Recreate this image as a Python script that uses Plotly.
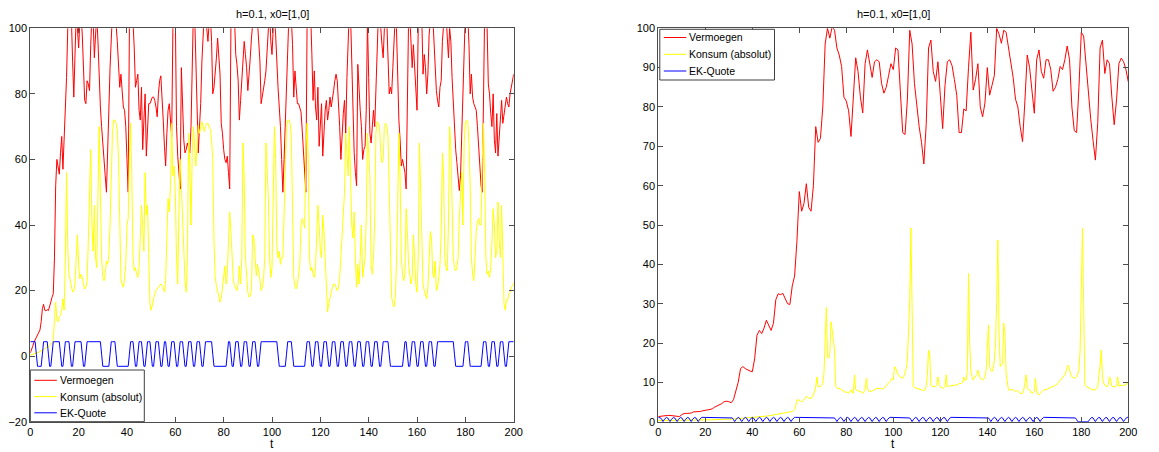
import numpy as np
import plotly.graph_objects as go

# ---------------- data: left panel (t step 0.5) ----------------
vermoegen_left = [
    1.0, 1.8, 3.0, 4.2, 5.0, 5.6, 6.3, 7.0, 8.0, 10.5, 14.5, 15.8, 14.0, 13.8, 14.2, 13.9, 15.0, 16.5, 18.0, 19.0,
    30, 52, 60, 57, 55.5, 62, 67, 57, 66, 72, 85, 100, 106, 105, 103, 90, 79, 92, 104, 100,
    94, 102, 104, 98, 88, 78, 77, 84, 83, 81, 95, 104, 103, 91, 98, 104, 96, 82, 76, 70,
    64, 60, 55, 50, 60, 75, 88, 100, 105, 106, 104, 101, 96, 88, 82, 86, 80, 76, 75, 70,
    60, 50, 100, 106, 105, 102, 94, 82, 84, 86, 75, 72, 82, 63, 72, 80, 61, 72, 77, 77,
    78, 79, 79, 78, 76, 73, 80, 84, 85.5, 80, 72, 64, 58, 68, 75, 77, 72, 67, 100, 106,
    104, 70, 61, 55, 51, 88, 75, 66, 62, 63, 65, 63, 62, 70, 102, 106, 104, 90, 72, 62,
    70, 77, 90, 102, 105, 104, 100, 96, 102, 104, 96, 80, 82, 86, 91, 97, 92, 86, 71, 68,
    63, 60, 59, 61, 56, 51, 100, 106, 105, 103, 92, 89, 84, 72, 78, 84, 89, 96, 92, 88,
    81, 85, 91, 97, 104, 106, 106, 105, 102, 96, 90, 77, 79, 82, 84, 87, 95, 104, 106, 96,
    92, 100, 104, 98, 88, 82, 76, 70, 60, 50, 60, 72, 85, 98, 104, 105, 103, 95, 79, 87,
    80, 77, 77, 76, 74.5, 69, 63, 57, 50, 100, 106, 106, 104, 92, 78, 87, 76, 72, 82, 64,
    72, 77, 61, 70, 75, 78, 72, 75, 79, 76, 78, 81, 84, 86, 84, 78, 70, 60, 68, 74,
    78, 68, 85, 102, 106, 104, 90, 70, 62, 56, 52, 89, 80, 75, 70, 60, 63, 64, 75, 102,
    85, 68, 65, 72, 75, 70, 82, 98, 104, 103, 100, 95, 91, 100, 104, 102, 90, 80, 82, 80,
    88, 98, 104, 100, 85, 72, 66, 58, 60, 58, 56, 51, 75, 102, 104, 94, 88, 95, 88, 78,
    75, 100, 105, 106, 102, 86, 92, 88, 80, 86, 98, 104, 106, 104, 95, 90, 81, 78, 76, 82,
    84, 96, 104, 106, 104, 98, 91, 100, 96, 85, 76, 68, 63, 59, 54, 50.5, 55, 68, 85, 100,
    105, 106, 104, 95, 80, 86, 79, 77, 76, 75, 70, 64, 58, 52, 50, 100, 106, 106, 100, 83,
    80, 74, 70, 80, 66, 62, 74, 61, 68, 74, 78, 71, 74, 77, 79, 77, 76, 80, 82, 84,
    86,
]

konsum_left = [
    0.3, 0.4, 0.5, 0.6, 0.7, 0.9, 1.0, 1.2, 1.4, 1.6, 1.8, 2.0, 2.2, 2.4, 2.6, 2.9, 3.2, 3.6, 4.0, 5.0,
    12, 16.5, 11, 10.5, 12, 12.5, 14, 17.5, 14, 30, 56, 33, 25, 23, 21.5, 19.5, 20, 22, 30, 37,
    28, 23.5, 25, 24, 22, 20.5, 21, 23, 35, 50, 63, 40, 32, 46, 30, 27, 45, 70, 50, 30,
    24, 23, 25, 29, 28, 31, 40, 54, 68, 72, 72, 71, 69, 60, 35, 23.5, 22, 21, 23.5, 28,
    40, 42, 62, 71, 55, 30, 26, 27, 25, 24, 27, 35, 46, 40, 32, 56, 43, 46, 30, 16,
    14, 16, 17.5, 19, 20, 20.5, 21, 21.5, 22, 21.5, 21, 19.5, 23, 36, 48, 44, 52, 71, 55, 58,
    50, 30, 22, 44, 60, 52, 42, 32, 23, 19.5, 30, 68, 58, 40, 62, 70, 64, 58, 64, 70.5,
    68, 70, 71.5, 70, 68.5, 70, 71, 71, 70, 69, 66, 60, 35, 24, 21.5, 19.5, 17.5, 16.5, 17.5, 21,
    25, 27.5, 22, 25, 35, 44, 38, 28, 23, 21.5, 20.5, 20, 22, 27.5, 22, 30, 65, 54, 30, 23,
    19.5, 18, 18.5, 20, 37, 36, 28, 24.5, 28, 26, 23.5, 20, 21, 23.5, 30, 65, 55, 48, 30, 24,
    27, 50, 70, 60, 34, 30, 32, 28, 30, 30, 45, 62, 70, 72, 72, 71, 67, 45, 24, 21,
    20.5, 22, 25, 28, 40, 42, 41, 39, 62, 71, 60, 30, 26, 27, 25, 24, 27, 35, 46, 40,
    32, 30, 43, 38, 28, 22, 13.5, 16, 18, 19.5, 21, 22, 22, 21, 20, 21, 24, 30, 36, 42,
    50, 68, 60, 55, 70, 50, 40, 36, 44, 30, 21, 28, 22, 30, 40, 24, 27, 30, 42, 68,
    62, 55, 28, 25, 30, 42, 68, 71.5, 71, 70, 62, 59, 60, 70, 71, 70, 67, 52, 32, 18,
    16, 15, 18, 28, 45, 68, 55, 30, 25, 23, 25, 45, 38, 28, 25, 22, 24, 37, 30, 22,
    19.5, 30, 65, 50, 29, 22, 20, 19, 17.5, 21, 30, 38, 36, 25, 24, 29, 20, 21, 24, 28,
    38, 62, 55, 30, 27, 26, 40, 70, 64, 50, 30, 27, 26, 27, 30, 42, 50, 56, 40, 65,
    71, 72, 71.5, 65, 52, 30, 25, 23, 30, 38, 41, 42, 40, 40, 60, 71, 55, 30, 25, 26,
    24, 27, 35, 45, 40, 30, 32, 47, 35, 30, 46, 26, 16, 14, 17, 17, 19, 19.5, 21, 21.5,
    22.5,
]

ekquote_left = [
    4.4, 4.4, 4.4, 4.4, 4.4, 0.6, -3.1, -3.1, -3.1, -3.1, 0.6, 4.4, 4.4, 4.4, 4.4, 0.6, -3.1, -3.1, 0.6, 4.4,
    4.4, 4.4, 4.4, 4.4, 4.4, 0.6, -3.1, -3.1, 0.6, 4.4, 4.4, 4.4, 4.4, 0.6, -3.1, -3.1, 0.6, 4.4, 4.4, 4.4,
    4.4, 4.4, 4.4, 0.6, -3.1, -3.1, 0.6, 4.4, 4.4, 4.4, 4.4, 4.4, 4.4, 4.4, 4.4, 4.4, 4.4, 4.4, 4.4, 0.6,
    -3.1, -3.1, -3.1, -3.1, -3.1, -3.1, 0.6, 4.4, 4.4, 4.4, 4.4, 0.6, -3.1, -3.1, -3.1, -3.1, -3.1, -3.1, -3.1, -3.1,
    -3.1, -3.1, 0.6, 4.4, 4.4, 4.4, 0.6, -3.1, -3.1, 0.6, 4.4, 4.4, 4.4, 0.6, -3.1, -3.1, 0.6, 4.4, 4.4, 4.4,
    0.6, -3.1, -3.1, 0.6, 4.4, 4.4, 4.4, 0.6, -3.1, -3.1, 0.6, 4.4, 4.4, 0.6, -3.1, -3.1, 0.6, 4.4, 4.4, 4.4,
    0.6, -3.1, -3.1, 0.6, 4.4, 4.4, 4.4, 0.6, -3.1, -3.1, 0.6, 4.4, 4.4, 4.4, 0.6, -3.1, -3.1, 0.6, 4.4, 4.4,
    4.4, 0.6, -3.1, -3.1, 0.6, 4.4, 4.4, 4.4, 4.4, 4.4, 4.4, 0.6, -3.1, -3.1, -3.1, -3.1, -3.1, -3.1, -3.1, -3.1,
    -3.1, -3.1, -3.1, 0.6, 4.4, 4.4, 0.6, -3.1, -3.1, 0.6, 4.4, 4.4, 4.4, 0.6, -3.1, -3.1, 0.6, 4.4, 4.4, 4.4,
    0.6, -3.1, -3.1, 0.6, 4.4, 4.4, 4.4, 0.6, -3.1, -3.1, 0.6, 4.4, 4.4, 4.4, 4.4, 4.4, 4.4, 4.4, 4.4, 4.4,
    4.4, 4.4, 4.4, 4.4, 4.4, 0.6, -3.1, -3.1, -3.1, -3.1, -3.1, -3.1, 0.6, 4.4, 4.4, 4.4, 4.4, 0.6, -3.1, -3.1,
    -3.1, -3.1, -3.1, -3.1, -3.1, -3.1, -3.1, -3.1, 0.6, 4.4, 4.4, 4.4, 0.6, -3.1, -3.1, 0.6, 4.4, 4.4, 4.4, 0.6,
    -3.1, -3.1, 0.6, 4.4, 4.4, 4.4, 0.6, -3.1, -3.1, 0.6, 4.4, 4.4, 4.4, 0.6, -3.1, -3.1, 0.6, 4.4, 4.4, 4.4,
    0.6, -3.1, -3.1, 0.6, 4.4, 4.4, 4.4, 0.6, -3.1, -3.1, 0.6, 4.4, 4.4, 4.4, 0.6, -3.1, -3.1, 0.6, 4.4, 4.4,
    4.4, 0.6, -3.1, -3.1, 0.6, 4.4, 4.4, 4.4, 0.6, -3.1, -3.1, 0.6, 4.4, 4.4, 4.4, 4.4, 4.4, 0.6, -3.1, -3.1,
    -3.1, -3.1, -3.1, -3.1, -3.1, -3.1, -3.1, -3.1, -3.1, 0.6, 4.4, 4.4, 0.6, -3.1, -3.1, 0.6, 4.4, 4.4, 4.4, 0.6,
    -3.1, -3.1, 0.6, 4.4, 4.4, 4.4, 0.6, -3.1, -3.1, 0.6, 4.4, 4.4, 4.4, 0.6, -3.1, -3.1, 0.6, 4.4, 4.4, 4.4,
    4.4, 4.4, 4.4, 4.4, 4.4, 4.4, 4.4, 4.4, 4.4, 4.4, 4.4, 0.6, -3.1, -3.1, -3.1, -3.1, -3.1, -3.1, -3.1, 0.6,
    4.4, 4.4, 4.4, 0.6, -3.1, -3.1, -3.1, -3.1, -3.1, -3.1, -3.1, -3.1, -3.1, -3.1, 0.6, 4.4, 4.4, 4.4, 0.6, -3.1,
    -3.1, 0.6, 4.4, 4.4, 4.4, 0.6, -3.1, -3.1, 0.6, 4.4, 4.4, 4.4, 0.6, -3.1, -3.1, 0.6, 4.4, 4.4, 4.4, 4.4,
    4.4,
]

# ---------------- data: right panel ----------------
# Vermoegen, t step 1
vermoegen_right = [
    1.3, 1.4, 1.5, 1.6, 1.6, 1.6, 1.5, 1.4, 1.3, 1.3,
    1.8, 2.1, 2.1, 2.1, 2.2, 2.5, 2.5, 2.5, 2.6, 2.8,
    3.0, 3.0, 3.1, 3.3, 3.7, 4.0, 4.2, 4.6, 5.1, 5.2,
    5.1, 4.8, 5.6, 7.5, 10.0, 13.5, 14.0, 13.5, 13.1, 12.9,
    12.7, 16.0, 22.0, 23.2, 22.4, 23.8, 25.8, 24.5, 23.2, 25.0,
    31.0, 32.5, 32.3, 32.6, 31.5, 30.0, 29.8, 34.5, 37.0, 46.0,
    58.5, 53.5, 55.5, 60.5, 54.5, 53.5, 60.0, 75.0, 71.0, 72.0,
    80.0, 96.0, 100.0, 97.5, 100.5, 99.5, 95.0, 93.2, 90.3, 82.5,
    81.5, 79.0, 72.5, 83.5, 92.5, 89.0, 82.5, 78.5, 91.0, 94.5,
    90.5, 87.5, 91.5, 92.0, 91.5, 86.0, 83.5, 85.0, 88.0, 91.0,
    89.5, 95.0, 94.5, 83.0, 73.5, 73.0, 82.0, 99.5, 96.0, 86.0,
    79.5, 75.0, 71.0, 65.5, 75.5, 95.0, 97.0, 89.0, 86.5, 91.5,
    83.0, 74.5, 85.5, 91.5, 92.0, 90.5, 87.0, 83.0, 73.5, 73.5,
    79.5, 79.0, 90.0, 99.0, 84.3, 87.0, 91.0, 80.0, 77.5, 81.0,
    90.0, 83.0, 85.5, 88.0, 100.0, 98.5, 96.2, 99.5, 99.0, 95.5,
    91.5, 87.5, 82.0, 80.0, 75.0, 71.2, 81.5, 93.2, 90.0, 85.0,
    78.4, 92.0, 94.5, 89.0, 87.3, 92.0, 92.0, 89.5, 84.0, 85.0,
    87.0, 90.3, 89.5, 92.0, 95.5, 92.0, 80.0, 74.0, 73.5, 85.0,
    99.0, 98.0, 90.3, 83.0, 77.0, 71.5, 66.5, 76.0, 95.0, 97.0,
    88.5, 92.0, 91.0, 82.5, 75.5, 81.8, 91.0, 92.4, 91.5, 89.5,
    86.4,
]

# Konsum and EK-Quote, t step 0.5
konsum_right = [
    0.30, 0.30, 0.30, 0.30, 0.31, 0.31, 0.31, 0.32, 0.32, 0.32, 0.33, 0.33, 0.33, 0.34, 0.34, 0.34, 0.35, 0.35, 0.35, 0.36,
    0.36, 0.37, 0.37, 0.38, 0.38, 0.39, 0.39, 0.40, 0.40, 0.41, 0.41, 0.42, 0.42, 0.43, 0.43, 0.44, 0.44, 0.45, 0.45, 0.46,
    0.46, 0.47, 0.47, 0.48, 0.48, 0.49, 0.50, 0.50, 0.51, 0.52, 0.52, 0.53, 0.54, 0.54, 0.55, 0.56, 0.57, 0.57, 0.58, 0.59,
    0.60, 0.62, 0.64, 0.66, 0.68, 0.70, 0.72, 0.74, 0.76, 0.78, 0.80, 0.83, 0.85, 0.88, 0.90, 0.93, 0.95, 0.98, 1.0, 1.05,
    1.1, 1.12, 1.14, 1.16, 1.18, 1.2, 1.22, 1.24, 1.26, 1.28, 1.3, 1.35, 1.4, 1.45, 1.5, 1.55, 1.6, 1.63, 1.66, 1.7,
    1.75, 1.85, 1.95, 2.05, 2.1, 2.15, 2.2, 2.25, 2.3, 2.3, 2.35, 2.4, 2.45, 2.5, 2.6, 2.8, 3.1, 4.0, 5.5, 5.6,
    5.5, 5.2, 5.0, 5.3, 5.5, 6.0, 6.4, 6.2, 5.9, 5.9, 5.9, 6.3, 6.8, 7.8, 8.9, 11.4, 8.9, 8.9, 8.9, 9.2,
    9.7, 12.3, 23.3, 29.0, 16.5, 16.1, 17.4, 25.4, 23.3, 20.0, 18.2, 8.9, 8.5, 8.4, 8.5, 8.3, 8.1, 7.9, 7.6, 7.5,
    7.6, 7.4, 7.2, 7.6, 8.1, 7.5, 7.2, 11.9, 8.1, 8.0, 7.9, 7.7, 7.6, 7.5, 7.2, 7.6, 8.0, 11.0, 8.5, 7.8,
    7.6, 7.7, 7.8, 8.0, 8.2, 8.3, 8.5, 8.4, 8.5, 8.4, 8.5, 8.3, 8.5, 8.8, 9.1, 9.4, 9.7, 10.2, 10.6, 11.0,
    10.6, 14.0, 13.6, 12.5, 11.9, 11.6, 11.4, 11.2, 11.0, 11.5, 12.3, 13.5, 15.7, 22.0, 30.9, 49.2, 25.8, 8.9, 8.7, 8.6,
    8.5, 8.4, 8.3, 8.2, 8.1, 8.0, 7.9, 8.1, 8.9, 12.0, 18.2, 17.0, 9.3, 9.0, 8.9, 8.9, 8.9, 9.5, 11.4, 9.5,
    8.9, 8.7, 8.5, 8.6, 8.9, 11.9, 8.9, 9.0, 9.1, 9.1, 9.1, 9.2, 9.3, 9.3, 9.3, 9.4, 9.7, 9.7, 9.7, 10.0,
    11.4, 10.5, 10.6, 13.0, 37.7, 20.0, 13.1, 11.5, 10.6, 11.0, 11.4, 12.0, 13.1, 12.0, 11.0, 10.8, 10.6, 10.8, 11.4, 13.0,
    18.2, 24.6, 14.0, 13.0, 12.7, 13.5, 15.7, 20.0, 30.9, 46.2, 22.5, 14.0, 14.4, 14.8, 25.0, 22.5, 12.3, 9.5, 8.1, 8.0,
    8.2, 8.1, 8.1, 7.9, 7.7, 7.8, 7.9, 7.6, 7.2, 7.2, 7.2, 8.0, 9.7, 11.9, 8.5, 8.1, 8.1, 7.6, 7.2, 7.4,
    7.6, 11.0, 7.6, 7.0, 6.8, 7.2, 7.6, 7.9, 8.1, 8.1, 8.1, 8.3, 8.5, 8.7, 8.9, 8.9, 8.9, 9.1, 9.3, 9.5,
    9.7, 10.2, 10.6, 11.0, 11.4, 11.6, 11.9, 12.8, 14.0, 14.4, 12.7, 12.0, 11.4, 11.2, 11.0, 11.2, 11.4, 12.2, 13.1, 18.2,
    30.9, 49.2, 30.0, 9.3, 9.0, 8.8, 8.6, 8.5, 8.3, 8.2, 8.1, 8.1, 8.1, 8.5, 8.9, 12.0, 14.0, 18.2, 11.4, 9.8,
    9.3, 9.0, 8.9, 9.5, 11.4, 10.6, 9.0, 8.9, 8.9, 8.9, 9.1, 11.4, 9.0, 9.2, 9.3, 9.2, 9.2, 9.3, 9.5, 9.6,
    9.7,
]

ekquote_right = [
    1.1, 1.1, 0.95, 0.55, 0, 0.55, 0.95, 1.1, 0.95, 0.55, 0, 0.55, 0.95, 1.1, 0.95, 0.55, 0, 0.55, 0.95, 1.1,
    0.95, 0.55, 0, 0.55, 0.95, 1.1, 0.95, 0.55, 0, 0.55, 0.95, 1.1, 0.95, 0.55, 0, 0.55, 0.95, 1.1, 1.1, 1.1,
    1.1, 1.1, 1.1, 1.1, 1.1, 1.1, 1.1, 1.1, 1.1, 1.1, 1.1, 1.1, 1.1, 1.1, 1.1, 1.1, 1.1, 1.1, 1.1, 1.1,
    1.1, 1.1, 1.1, 0.95, 0.55, 0, 0.55, 0.95, 1.1, 0.95, 0.55, 0, 0.55, 0.95, 1.1, 0.95, 0.55, 0, 0.55, 0.95,
    1.1, 0.95, 0.55, 0, 0.55, 0.95, 1.1, 0.95, 0.55, 0, 0.55, 0.95, 1.1, 0.95, 0.55, 0, 0.55, 0.95, 1.1, 0.95,
    0.55, 0, 0.55, 0.95, 1.1, 0.95, 0.55, 0, 0.55, 0.95, 1.1, 0.95, 0.55, 0, 0.55, 0.95, 1.1, 1.1, 1.1, 1.1,
    1.1, 1.1, 1.1, 1.1, 1.1, 1.1, 1.1, 1.1, 1.1, 1.1, 1.1, 1.1, 1.1, 1.1, 1.1, 1.1, 1.1, 1.1, 1.1, 1.1,
    1.1, 1.1, 1.1, 1.1, 1.1, 1.1, 1.1, 1.1, 1.1, 1.1, 0.95, 0.55, 0, 0.55, 0.95, 1.1, 0.95, 0.55, 0, 0.55,
    0.95, 1.1, 0.95, 0.55, 0, 0.55, 0.95, 1.1, 0.95, 0.55, 0, 0.55, 0.95, 1.1, 0.95, 0.55, 0, 0.55, 0.95, 1.1,
    0.95, 0.55, 0, 0.55, 0.95, 1.1, 0.95, 0.55, 0, 0.55, 0.95, 1.1, 0.95, 0.55, 0, 0.55, 0.95, 1.1, 1.1, 1.1,
    1.1, 1.1, 1.1, 1.1, 1.1, 1.1, 1.1, 1.1, 1.1, 1.1, 1.1, 1.1, 1.1, 1.1, 0.95, 0.55, 0, 0.55, 0.95, 1.1,
    0.95, 0.55, 0, 0.55, 0.95, 1.1, 0.95, 0.55, 0, 0.55, 0.95, 1.1, 0.95, 0.55, 0, 0.55, 0.95, 1.1, 0.95, 0.55,
    0, 0.55, 0.95, 1.1, 0.95, 0.55, 0, 0.55, 0.95, 1.1, 1.1, 1.1, 1.1, 1.1, 1.1, 1.1, 1.1, 1.1, 1.1, 1.1,
    1.1, 1.1, 1.1, 1.1, 1.1, 1.1, 1.1, 1.1, 1.1, 1.1, 1.1, 1.1, 1.1, 1.1, 1.1, 1.1, 1.1, 1.1, 1.1, 1.1,
    1.1, 0.95, 0.55, 0, 0.55, 0.95, 1.1, 0.95, 0.55, 0, 0.55, 0.95, 1.1, 0.95, 0.55, 0, 0.55, 0.95, 1.1, 0.95,
    0.55, 0, 0.55, 0.95, 1.1, 0.95, 0.55, 0, 0.55, 0.95, 1.1, 0.95, 0.55, 0, 0.55, 0.95, 1.1, 0.95, 0.55, 0,
    0.55, 0.95, 1.1, 0.95, 0.55, 0, 0.55, 0.95, 1.1, 1.1, 1.1, 1.1, 1.1, 1.1, 1.1, 1.1, 1.1, 1.1, 1.1, 1.1,
    1.1, 1.1, 1.1, 1.1, 1.1, 1.1, 1.1, 1.1, 1.1, 1.1, 1.1, 1.1, 1.1, 1.1, 1.1, 0.95, 0.55, 0, 0, 0,
    0, 0, 0, 0, 0, 0, 0, 0.55, 0.95, 1.1, 0.95, 0.55, 0, 0.55, 0.95, 1.1, 0.95, 0.55, 0, 0.55,
    0.95, 1.1, 0.95, 0.55, 0, 0.55, 0.95, 1.1, 0.95, 0.55, 0, 0.55, 0.95, 1.1, 0.95, 0.55, 0, 0.55, 0.95, 1.1,
    1.1,
]

series_names = ["Vermoegen", "Konsum (absolut)", "EK-Quote"]
series_colors = ["#ff0000", "#ffff00", "#0000ff"]
title_text = "h=0.1, x0=[1,0]"
x_ticks = [0, 20, 40, 60, 80, 100, 120, 140, 160, 180, 200]
y_ticks_left = [-20, 0, 20, 40, 60, 80, 100]
y_ticks_right = [0, 10, 20, 30, 40, 50, 60, 70, 80, 90, 100]

t_left = np.arange(len(vermoegen_left)) * 0.5
t_konsum_left = np.arange(len(konsum_left)) * 0.5
t_ek_left = np.arange(len(ekquote_left)) * 0.5
t_verm_right = np.arange(len(vermoegen_right)) * 1.0
t_kons_right = np.arange(len(konsum_right)) * 0.5
t_ek_right = np.arange(len(ekquote_right)) * 0.5

W, H = 1159, 452
FONT = "Liberation Sans, Arial, Helvetica, sans-serif"

fig = go.Figure()
left_sets = [(t_left, vermoegen_left), (t_konsum_left, konsum_left), (t_ek_left, ekquote_left)]
right_sets = [(t_verm_right, vermoegen_right), (t_kons_right, konsum_right), (t_ek_right, ekquote_right)]
for (tx, vy), name, col in zip(left_sets, series_names, series_colors):
    fig.add_trace(go.Scatter(x=tx, y=vy, mode="lines", name=name, showlegend=False,
                             line=dict(color=col, width=1), xaxis="x", yaxis="y",
                             hoverinfo="skip"))
for (tx, vy), name, col in zip(right_sets, series_names, series_colors):
    fig.add_trace(go.Scatter(x=tx, y=vy, mode="lines", name=name, showlegend=False,
                             line=dict(color=col, width=1), xaxis="x2", yaxis="y2",
                             hoverinfo="skip"))

# pixel geometry of the two axes boxes
L_x0, L_x1 = 30.3, 513.7
R_x0, R_x1 = 658.3, 1128.3
Y_top, Y_bot = 28.3, 421.7
ydom = [(H - Y_bot) / H, (H - Y_top) / H]

def px(xp):
    return xp / W

def py(yp):
    return (H - yp) / H

axis_common = dict(showgrid=False, zeroline=False, showline=True, linecolor="#4d4d4d",
                   linewidth=1, mirror="ticks", ticks="inside", ticklen=5, automargin=False,
                   tickcolor="#4d4d4d", tickfont=dict(family=FONT, size=11, color="black"))

fig.update_layout(
    template="none",
    width=W, height=H,
    margin=dict(l=0, r=0, t=0, b=0, pad=0),
    paper_bgcolor="white", plot_bgcolor="white",
    font=dict(family=FONT, size=11, color="black"),
    xaxis=dict(domain=[px(L_x0), px(L_x1)], range=[0, 200], tickvals=x_ticks,
               anchor="y", **axis_common),
    yaxis=dict(domain=ydom, range=[-20, 100], tickvals=y_ticks_left, anchor="x", **axis_common),
    xaxis2=dict(domain=[px(R_x0), px(R_x1)], range=[0, 200], tickvals=x_ticks,
                anchor="y2", **axis_common),
    yaxis2=dict(domain=ydom, range=[0, 100], tickvals=y_ticks_right, anchor="x2", **axis_common),
    showlegend=False,
    hovermode=False,
)

# titles and x labels
for xc in [(L_x0 + L_x1) / 2, (R_x0 + R_x1) / 2]:
    fig.add_annotation(text=title_text, x=px(xc), y=py(14), xref="paper", yref="paper",
                       showarrow=False, xanchor="center", yanchor="middle",
                       font=dict(family=FONT, size=11, color="black"))
    fig.add_annotation(text="t", x=px(xc), y=py(444), xref="paper", yref="paper",
                       showarrow=False, xanchor="center", yanchor="middle",
                       font=dict(family=FONT, size=12, color="black"))

# legend boxes drawn in MATLAB style
legend_boxes = [
    # (box x0, box x1, box top, box bottom, row centres)
    (L_x0, 144.3, 370.0, Y_bot, [380.3, 396.6, 412.8]),
    (R_x0 + 1.5, 774.5, Y_top + 1.0, 80.0, [37.5, 54.3, 71.0]),
]
for bx0, bx1, btop, bbot, rows in legend_boxes:
    fig.add_shape(type="rect", xref="paper", yref="paper",
                  x0=px(bx0), x1=px(bx1), y0=py(bbot), y1=py(btop),
                  line=dict(color="#404040", width=1), fillcolor="white", layer="above")
    for name, col, ry in zip(series_names, series_colors, rows):
        fig.add_shape(type="line", xref="paper", yref="paper",
                      x0=px(bx0 + 4), x1=px(bx0 + 26.5), y0=py(ry), y1=py(ry),
                      line=dict(color=col, width=1), layer="above")
        fig.add_annotation(text=name, x=px(bx0 + 27.5), y=py(ry), xref="paper", yref="paper",
                           showarrow=False, xanchor="left", yanchor="middle",
                           font=dict(family=FONT, size=10.5, color="black"))

fig.write_html("out.html", config={"displayModeBar": False},
               post_script="document.body.style.margin='0px';document.body.style.padding='0px';")
